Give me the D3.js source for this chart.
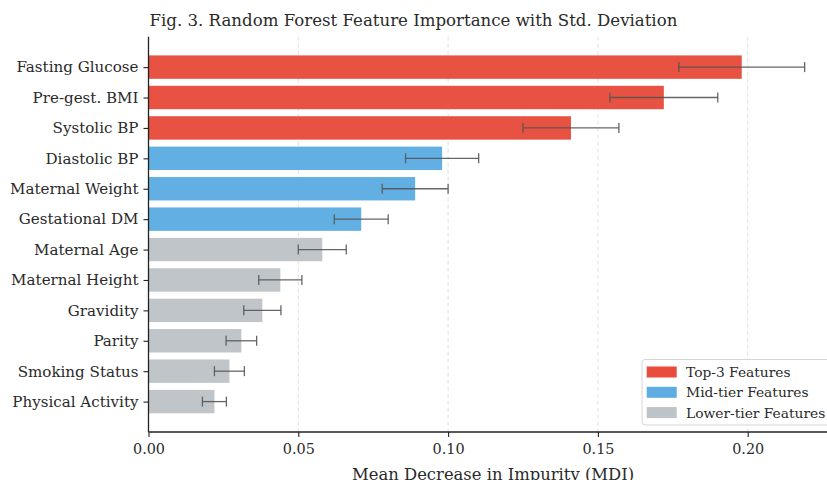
<!DOCTYPE html>
<html><head><meta charset="utf-8">
<script src="https://cdn.jsdelivr.net/npm/d3@7"></script>
<style>body{margin:0;background:#fff}svg{display:block}text{font-family:"DejaVu Serif",serif;fill:#2a2a2a}</style>
</head><body><svg id="c" width="827" height="480"></svg>
<script>
const features = ["Fasting Glucose","Pre-gest. BMI","Systolic BP","Diastolic BP","Maternal Weight","Gestational DM","Maternal Age","Maternal Height","Gravidity","Parity","Smoking Status","Physical Activity"];
const importance = [0.198,0.172,0.141,0.098,0.089,0.071,0.058,0.044,0.038,0.031,0.027,0.022];
const stdDev = [0.021,0.018,0.016,0.0122,0.011,0.009,0.008,0.0072,0.0062,0.0051,0.005,0.004];
const tiers = ["top","top","top","mid","mid","mid","low","low","low","low","low","low"];
const tierNames = ["Top-3 Features","Mid-tier Features","Lower-tier Features"];
const tierKeys = ["top","mid","low"];
const tierColors = ["#e74c3c","#5dade2","#bdc3c7"];
const xTicks = [0,0.05,0.10,0.15,0.20];

const svg = d3.select("#c");
const mL = 148.5, mR = 837.6, mT = 36.7, mB = 432;
const x = d3.scaleLinear().domain([0,0.23]).range([mL,mR]);
const y = d3.scaleLinear().domain([-1,12]).range([mT,mB]);
const color = d3.scaleOrdinal().domain(tierKeys).range(tierColors);
const bh = (y(1)-y(0))*0.77;

// grid
svg.append("g").selectAll("line").data(xTicks.slice(1)).join("line")
  .attr("x1",d=>x(d)).attr("x2",d=>x(d)).attr("y1",mT).attr("y2",mB)
  .attr("stroke","#d8d8d8").attr("stroke-width",0.8).attr("stroke-dasharray","4,3");

// bars
svg.append("g").selectAll("rect").data(features).join("rect")
  .attr("x",x(0)).attr("y",(d,i)=>y(i)-bh/2)
  .attr("width",(d,i)=>x(importance[i])-x(0)).attr("height",bh)
  .attr("fill",(d,i)=>color(tiers[i])).attr("fill-opacity",0.97);

// error bars
const eb = svg.append("g").attr("stroke","#555").attr("stroke-width",1.3).attr("stroke-opacity",0.9);
features.forEach((f,i)=>{
  const cy=y(i), x1=x(importance[i]-stdDev[i]), x2=x(importance[i]+stdDev[i]);
  eb.append("line").attr("x1",x1).attr("x2",x2).attr("y1",cy).attr("y2",cy);
  eb.append("line").attr("x1",x1).attr("x2",x1).attr("y1",cy-5).attr("y2",cy+5);
  eb.append("line").attr("x1",x2).attr("x2",x2).attr("y1",cy-5).attr("y2",cy+5);
});

// axes
const xAxis = svg.append("g").attr("transform",`translate(0,${mB})`)
  .call(d3.axisBottom(x).tickValues(xTicks).tickFormat(d3.format(".2f")).tickSize(5).tickPadding(7));
const yAxis = svg.append("g").attr("transform",`translate(${mL},0)`)
  .call(d3.axisLeft(y).tickValues(d3.range(features.length)).tickFormat(i=>features[i]).tickSize(5).tickPadding(5));
[xAxis,yAxis].forEach(a=>{
  a.select(".domain").attr("stroke","#222").attr("stroke-width",1.3);
  a.selectAll(".tick line").attr("stroke","#222").attr("stroke-width",1.1);
  a.selectAll("text").style("font-family","DejaVu Serif").attr("fill","#2a2a2a");
});
yAxis.selectAll("text").style("font-size","15.1px");
xAxis.selectAll("text").style("font-size","14.4px");
yAxis.select(".domain").attr("d",`M0,${mT}V${mB}`);
xAxis.select(".domain").attr("d",`M${mL},0H${mR}`);

// title
svg.append("text").attr("x",mL+1).attr("y",26).style("font-size","16.6px").text("Fig. 3. Random Forest Feature Importance with Std. Deviation");
// x label
svg.append("text").attr("x",(mL+mR)/2).attr("y",480).attr("text-anchor","middle").style("font-size","16.4px").text("Mean Decrease in Impurity (MDI)");

// legend
const lg = svg.append("g").attr("transform","translate(642,359.5)");
lg.append("rect").attr("x",0).attr("y",0).attr("width",200).attr("height",65.5).attr("rx",3)
  .attr("fill","#fff").attr("fill-opacity",0.85).attr("stroke","#d5d5d5");
tierNames.forEach((n,i)=>{
  lg.append("rect").attr("x",4.7).attr("y",7+i*20.3).attr("width",30).attr("height",11).attr("fill",tierColors[i]);
  lg.append("text").attr("x",44).attr("y",17.5+i*20.3).style("font-size","13.8px").text(n);
});
</script></body></html>
